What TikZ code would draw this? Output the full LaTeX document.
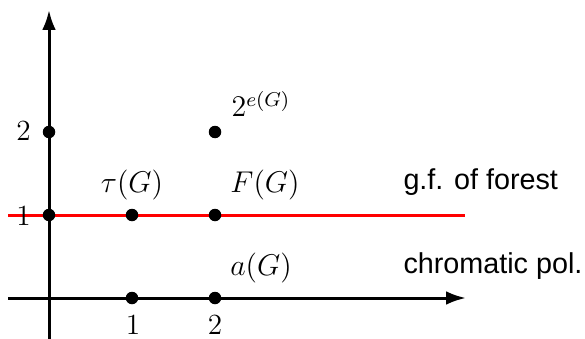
\documentclass[tikz,border=0pt]{standalone}
\usepackage{fontspec}
\setsansfont{Liberation Sans}
\usetikzlibrary{arrows.meta}
\begin{document}
\begin{tikzpicture}[x=0.4pt,y=-0.4pt,
  dot/.style={circle,fill=black,inner sep=0pt,minimum size=5pt},
  axisline/.style={line width=1.2pt,-{Latex[length=8pt,width=5.5pt]}},
  redline/.style={line width=1.2pt,red},
  numlabel/.style={inner sep=0pt,font=\fontsize{11.7}{14}\selectfont},
  mathlabel/.style={inner sep=0pt,font=\fontsize{11.7}{14}\selectfont},
  textlabel/.style={inner sep=0pt,anchor=base west,font=\sffamily\fontsize{11.5}{14}\selectfont}]
\useasboundingbox (0,0) rectangle (585,339);
\coordinate (ybot) at (49,339);
\coordinate (ytop) at (49,10);
\coordinate (xl) at (8,298);
\coordinate (xr) at (466,298);
\coordinate (rl) at (8,215);
\coordinate (rr) at (465,215);
\draw[redline] (rl) -- (rr);
\draw[axisline] (ybot) -- (ytop);
\draw[axisline] (xl) -- (xr);
\node[dot] (p01) at (49,215) {};
\node[dot] (p02) at (49,132) {};
\node[dot] (p11) at (132,215) {};
\node[dot] (p21) at (215,215) {};
\node[dot] (p22) at (215,132) {};
\node[dot] (p10) at (132,298) {};
\node[dot] (p20) at (215,298) {};
\node[numlabel] (ly2) at (23.5,131) {2};
\node[numlabel] (ly1) at (23.5,216) {1};
\node[numlabel] (lx1) at (133,325) {1};
\node[numlabel] (lx2) at (215,325) {2};
\node[mathlabel] (tau) at (132,185) {$\tau(G)$};
\node[mathlabel] (FG) at (265,185) {$F(G)$};
\node[mathlabel] (eG) at (261,104) {$2^{e(G)}$};
\node[mathlabel] (aG) at (261,268) {$a(G)$};
\node[textlabel] (gf) at (403,189) {g.f. of forest};
\node[textlabel] (cp) at (403,273) {chromatic pol.};
\end{tikzpicture}
\end{document}
